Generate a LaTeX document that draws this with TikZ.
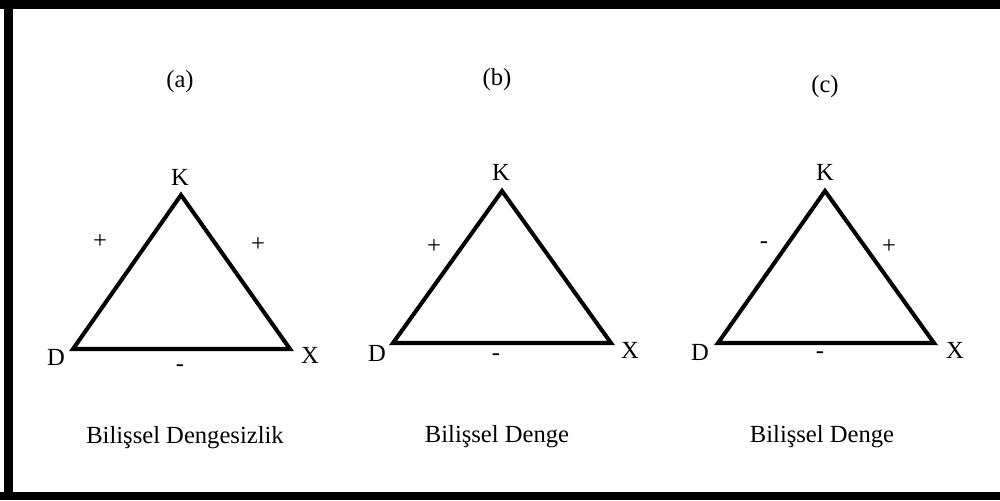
\documentclass[tikz,border=0pt]{standalone}
\usepackage{fontspec}
\setmainfont{Liberation Serif}
\begin{document}
\begin{tikzpicture}[x=0.02cm,y=-0.02cm,
  edge/.style={line width=2.3pt,line join=miter},
  vlabel/.style={font=\fontsize{14}{16}\selectfont,inner sep=0pt},
  sign/.style={font=\fontsize{14}{16}\selectfont,inner sep=0pt},
  title/.style={font=\fontsize{14}{16}\selectfont,inner sep=0pt},
  caption/.style={font=\fontsize{14}{16}\selectfont,inner sep=0pt}]
\useasboundingbox (0,0) rectangle (1000,500);
% frame
\fill[black] (0,0) rectangle (1000,9);
\fill[black] (4,0) rectangle (13,500);
\fill[black] (0,492) rectangle (1000,500);

% (a)
\coordinate (aK) at (181,195);
\coordinate (aD) at (73,349);
\coordinate (aX) at (290,349);
\draw[edge] (aD) -- (aK) -- (aX) -- cycle;
\node[title] (at) at (180,82) {(a)};
\node[vlabel] (aKl) at (180,177) {K};
\node[vlabel] (aDl) at (56,357) {D};
\node[vlabel] (aXl) at (310,355) {X};
\node[sign] (as1) at (100,242) {+};
\node[sign] (as2) at (258,245) {+};
\node[sign] (as3) at (180,368) {-};
\node[caption] (ac) at (185,438) {Bilişsel Dengesizlik};

% (b)
\coordinate (bK) at (502,191);
\coordinate (bD) at (393,343);
\coordinate (bX) at (611,343);
\draw[edge] (bD) -- (bK) -- (bX) -- cycle;
\node[title] (bt) at (497,80) {(b)};
\node[vlabel] (bKl) at (501,172) {K};
\node[vlabel] (bDl) at (377,353) {D};
\node[vlabel] (bXl) at (630,350) {X};
\node[sign] (bs1) at (434,247) {+};
\node[sign] (bs3) at (496,357) {-};
\node[caption] (bc) at (497,437) {Bilişsel Denge};

% (c)
\coordinate (cK) at (825,191);
\coordinate (cD) at (718,343);
\coordinate (cX) at (934,343);
\draw[edge] (cD) -- (cK) -- (cX) -- cycle;
\node[title] (ct) at (825,87) {(c)};
\node[vlabel] (cKl) at (825,172) {K};
\node[vlabel] (cDl) at (700,352) {D};
\node[vlabel] (cXl) at (955,350) {X};
\node[sign] (cs1) at (764,245) {-};
\node[sign] (cs2) at (889,247) {+};
\node[sign] (cs3) at (820,355) {-};
\node[caption] (cc) at (822,437) {Bilişsel Denge};
\end{tikzpicture}
\end{document}
